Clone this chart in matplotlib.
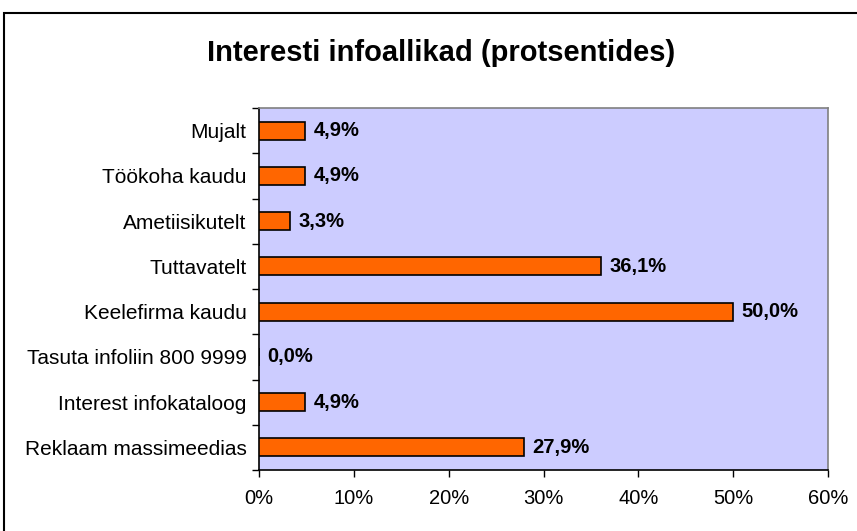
import matplotlib.pyplot as plt
import matplotlib.patches as patches
import numpy as np

categories = ["Reklaam massimeedias", "Interest infokataloog", "Tasuta infoliin 800 9999",
              "Keelefirma kaudu", "Tuttavatelt", "Ametiisikutelt", "Töökoha kaudu", "Mujalt"]
values = [27.9, 4.9, 0.0, 50.0, 36.1, 3.3, 4.9, 4.9]
x_ticks = [0, 10, 20, 30, 40, 50, 60]

plt.rcParams['font.family'] = ['Liberation Sans', 'DejaVu Sans']

fig = plt.figure(figsize=(8.57, 5.31), dpi=100)

# outer chart border
fig.patches.append(patches.Rectangle((4 / 857, -0.1), 1.2, (531 - 13) / 531 + 0.1,
                                     transform=fig.transFigure, fill=False,
                                     edgecolor='black', linewidth=1.5))

ax = fig.add_axes([259 / 857, 1 - 470 / 531, 569 / 857, 362 / 531])
ax.set_facecolor('#CCCCFF')

y = np.arange(len(categories))
ax.barh(y, values, height=0.4, color='#FF6600', edgecolor='black', linewidth=1.2, zorder=3)

for yi, v in zip(y, values):
    ax.text(v + 0.9, yi, f"{v:.1f}%".replace('.', ','), va='center', ha='left',
            fontsize=14.5, fontweight='bold')

ax.set_xlim(0, 60)
ax.set_ylim(-0.5, len(categories) - 0.5)
ax.set_xticks(x_ticks)
ax.set_xticklabels([f"{t}%" for t in x_ticks], fontsize=14.5)
ax.set_yticks(y)
ax.set_yticklabels(categories, fontsize=15)
ax.tick_params(axis='y', which='major', length=0, pad=9)
ax.set_yticks(np.arange(-0.5, len(categories), 1), minor=True)
ax.tick_params(axis='y', which='minor', length=5, direction='out', width=1)
ax.tick_params(axis='x', length=5, direction='out', width=1, pad=9)

ax.spines['left'].set_color('black')
ax.spines['bottom'].set_color('black')
ax.spines['top'].set_color('#808080')
ax.spines['right'].set_color('#808080')
for s in ax.spines.values():
    s.set_linewidth(1.2)

fig.text(441 / 857, 1 - 53 / 531, "Interesti infoallikad (protsentides)", ha='center', va='center',
         fontsize=21, fontweight='bold')

fig.savefig('out.png', dpi=100)
